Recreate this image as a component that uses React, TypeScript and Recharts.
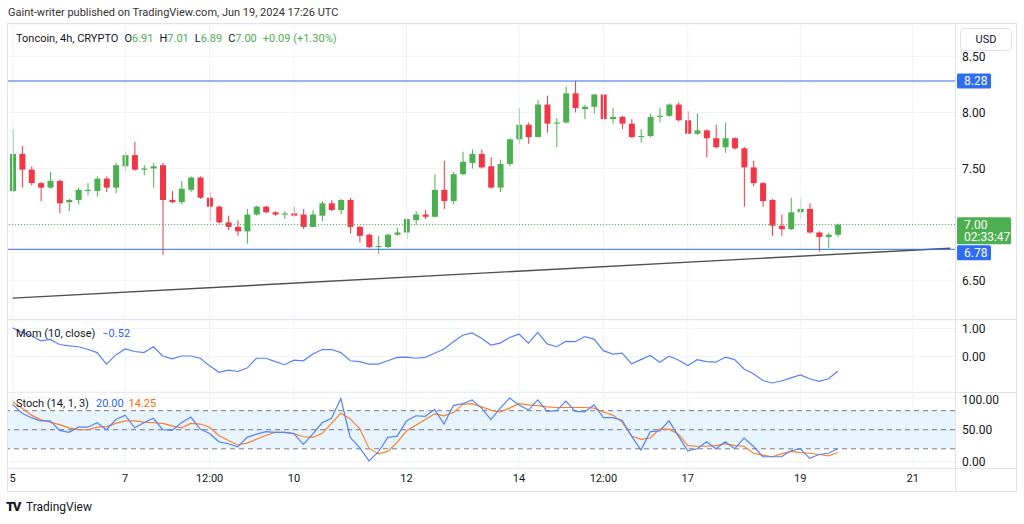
import React from "react";
import {
  ComposedChart,
  Bar,
  Line,
  XAxis,
  YAxis,
  CartesianGrid,
  ReferenceLine,
  ReferenceArea,
} from "recharts";

// 4h candles, June 5 00:00 -> June 19 16:00
const opens = [
  7.3, 7.63, 7.49, 7.37, 7.33, 7.39, 7.2, 7.22, 7.3, 7.3,
  7.41, 7.33, 7.52, 7.62, 7.49, 7.5, 7.53, 7.22, 7.2, 7.31,
  7.42, 7.24, 7.16, 7.02, 6.98, 6.94, 7.09, 7.16, 7.11, 7.09,
  7.1, 7.09, 6.98, 7.08, 7.19, 7.13, 7.22, 6.98, 6.91, 6.8,
  6.8, 6.91, 6.93, 7.04, 7.09, 7.07, 7.31, 7.21, 7.45, 7.55,
  7.63, 7.52, 7.33, 7.54, 7.76, 7.89, 7.78, 8.07, 7.9, 7.91,
  8.17, 8.03, 8.05, 8.16, 7.94, 7.96, 7.9, 7.78, 7.79, 7.96,
  7.97, 8.07, 7.93, 7.81, 7.84, 7.77, 7.69, 7.77, 7.68, 7.51,
  7.37, 7.22, 6.99, 6.96, 7.11, 7.14, 6.93, 6.89, 6.91,
];
const highs = [
  7.85, 7.7, 7.52, 7.38, 7.47, 7.4, 7.23, 7.33, 7.37, 7.43,
  7.43, 7.55, 7.65, 7.74, 7.53, 7.55, 7.55, 7.3, 7.39, 7.43,
  7.43, 7.29, 7.17, 7.08, 7.04, 7.14, 7.17, 7.17, 7.12, 7.12,
  7.16, 7.14, 7.13, 7.21, 7.22, 7.23, 7.24, 6.99, 6.92, 6.9,
  6.92, 6.97, 7.06, 7.12, 7.13, 7.45, 7.57, 7.47, 7.65, 7.67,
  7.67, 7.6, 7.58, 7.77, 8.04, 7.91, 8.11, 8.15, 7.95, 8.23,
  8.28, 8.07, 8.16, 8.16, 8.04, 7.97, 7.94, 7.85, 7.99, 8.04,
  8.08, 8.09, 8.01, 7.99, 7.85, 7.89, 7.91, 7.78, 7.69, 7.57,
  7.38, 7.23, 7.09, 7.24, 7.24, 7.19, 6.94, 6.93, 7.01,
];
const lows = [
  7.29, 7.33, 7.35, 7.21, 7.32, 7.1, 7.12, 7.18, 7.26, 7.25,
  7.29, 7.28, 7.47, 7.48, 7.44, 7.33, 6.73, 7.19, 7.18, 7.29,
  7.23, 7.03, 7.01, 6.95, 6.9, 6.83, 7.08, 7.1, 7.08, 7.05,
  7.07, 6.96, 6.98, 7.03, 7.12, 7.09, 6.92, 6.84, 6.79, 6.74,
  6.79, 6.9, 6.87, 7.0, 7.05, 7.07, 7.14, 7.18, 7.44, 7.5,
  7.5, 7.32, 7.29, 7.52, 7.72, 7.72, 7.78, 7.82, 7.69, 7.9,
  8.0, 7.94, 7.99, 7.94, 7.9, 7.85, 7.77, 7.73, 7.78, 7.91,
  7.96, 7.92, 7.81, 7.8, 7.6, 7.68, 7.64, 7.67, 7.16, 7.34,
  7.16, 6.9, 6.9, 6.95, 7.05, 6.92, 6.76, 6.79, 6.89,
];
const closes = [
  7.63, 7.49, 7.37, 7.33, 7.39, 7.19, 7.22, 7.31, 7.31, 7.41,
  7.33, 7.53, 7.62, 7.49, 7.5, 7.52, 7.22, 7.2, 7.32, 7.42,
  7.24, 7.16, 7.02, 6.98, 6.94, 7.09, 7.16, 7.11, 7.09, 7.1,
  7.08, 6.98, 7.09, 7.19, 7.13, 7.22, 6.98, 6.9, 6.8, 6.81,
  6.91, 6.93, 7.05, 7.09, 7.07, 7.31, 7.21, 7.45, 7.56, 7.63,
  7.51, 7.33, 7.54, 7.76, 7.89, 7.78, 8.07, 7.9, 7.91, 8.17,
  8.04, 8.05, 8.16, 7.94, 7.96, 7.9, 7.78, 7.79, 7.96, 7.97,
  8.07, 7.93, 7.81, 7.84, 7.77, 7.69, 7.77, 7.68, 7.51, 7.37,
  7.21, 6.99, 6.96, 7.11, 7.14, 6.93, 6.89, 6.91, 7.0,
];

// Mom (10, close)
const momentum = [
  1.02, 0.86, 0.74, 0.56, 0.61, 0.43, 0.38, 0.35, 0.26, 0.14,
  -0.27, 0.06, 0.27, 0.18, 0.14, 0.35, 0.02, -0.08, 0.02, 0.02,
  -0.06, -0.33, -0.56, -0.48, -0.53, -0.41, -0.06, -0.06, -0.18, -0.29,
  -0.13, -0.15, 0.09, 0.25, 0.25, 0.14, -0.15, -0.18, -0.27, -0.27,
  -0.15, -0.03, -0.02, -0.06, -0.03, 0.12, 0.27, 0.53, 0.76, 0.84,
  0.65, 0.41, 0.48, 0.68, 0.8, 0.48, 0.86, 0.45, 0.35, 0.54,
  0.53, 0.71, 0.62, 0.21, 0.09, 0.12, -0.26, -0.11, 0.04, -0.2,
  0.01, -0.12, -0.32, -0.11, -0.18, -0.2, -0.02, -0.11, -0.44, -0.61,
  -0.85, -0.94, -0.87, -0.76, -0.65, -0.79, -0.88, -0.79, -0.52,
];

// Stoch (14, 1, 3)
const stochK = [
  90, 76, 69, 64, 64, 49, 46, 54, 54, 61,
  50, 66, 73, 53, 61, 68, 50, 49, 61, 70,
  51, 44, 31, 28, 23, 38, 43, 47, 46, 46,
  44, 27, 43, 61, 68, 99, 38, 22, 1, 15,
  38, 40, 64, 72, 71, 82, 59, 88, 91, 97,
  84, 66, 84, 100, 89, 81, 97, 79, 80, 95,
  79, 78, 89, 69, 69, 65, 40, 18, 47, 48,
  64, 40, 17, 20, 31, 20, 31, 20, 37, 24,
  7.5, 7.5, 7.5, 17, 20, 5, 11, 13, 20,
];
const stochD = [
  94, 84, 73, 66, 62, 58, 53, 50, 50, 54,
  55, 60, 64, 64, 62, 61, 60, 56, 53, 60,
  59, 54, 41, 33, 26, 29, 35, 41, 46, 46,
  44, 39, 38, 44, 60, 76, 67, 52, 21, 12,
  16, 30, 48, 57, 66, 75, 72, 77, 90, 91,
  86, 81, 78, 84, 91, 89, 88, 86, 85, 85,
  85, 85, 84, 78, 73, 62, 40, 35, 37, 51,
  51, 43, 25, 24, 24, 25, 28, 25, 24, 13,
  10, 7.5, 12, 16, 14, 13, 11, 9, 14.25,
];

const timeTicks = [0, 12, 21, 30, 42, 54, 63, 72, 84, 96];
const timeLabels = ["5", "7", "12:00", "10", "12", "14", "12:00", "17", "19", "21"];
const priceTicks = [6.5, 7, 7.5, 8, 8.5];
const momTicks = [-1, 0, 1];
const stochTicks = [0, 50, 100];
const stochLevels = [80, 50, 20];
const levels = [8.28, 6.78];
const trendLine = [
  { idx: 0, price: 6.345 },
  { idx: 100, price: 6.79 },
];
const lastPrice = 7.0;
const SLOTS = 101;

const UP = "#4caf50";
const DOWN = "#f23645";
const BLUE = "#2f6cf6";
const GRID = "#f0f3fa";
const BORDER = "#e0e3eb";
const TEXT = "#131722";

const rows = Array.from({ length: SLOTS }, (_, i) =>
  i < opens.length
    ? {
        idx: i,
        open: opens[i],
        high: highs[i],
        low: lows[i],
        close: closes[i],
        range: [lows[i], highs[i]],
        mom: momentum[i],
        k: stochK[i],
        d: stochD[i],
      }
    : { idx: i }
);

const Candle = (props: any) => {
  const { x, y, width, height, payload } = props;
  if (!payload || payload.open == null) return null;
  const { open, close, high, low } = payload;
  const color = close >= open ? UP : DOWN;
  const top = Math.min(y, y + height);
  const h = Math.abs(height);
  const ratio = high > low ? h / (high - low) : 0;
  const cx = x + width / 2;
  const bodyTop = top + (high - Math.max(open, close)) * ratio;
  const bodyH = Math.max(1, Math.abs(open - close) * ratio);
  return (
    <g>
      <line x1={cx} x2={cx} y1={top} y2={top + h} stroke={color} strokeWidth={1} />
      <rect x={x} y={bodyTop} width={width} height={bodyH} fill={color} />
    </g>
  );
};

// label box on the price scale; shift moves it off a neighbouring label
const PriceTag = (props: any) => {
  const { viewBox, text, sub, color, w, shift = 0 } = props;
  if (!viewBox) return null;
  const x = viewBox.x + viewBox.width + 2;
  const y = viewBox.y + shift;
  const top = y - 7.5;
  const h = sub ? 27 : 15;
  return (
    <g>
      <rect x={x} y={top} width={w} height={h} fill={color} rx={1.5} />
      <text x={x + 7} y={top + 11.5} fill="#fff" fontSize={12}>
        {text}
      </text>
      {sub && (
        <text x={x + 7} y={top + 24} fill="#fff" fontSize={12}>
          {sub}
        </text>
      )}
    </g>
  );
};

const yTick = { fontSize: 12, fill: TEXT };
const PANE_W = 1008;
const AXIS_W = 61;

const vLines = timeTicks.map((t) => (
  <ReferenceLine key={"v" + t} x={t} stroke={GRID} strokeWidth={1} />
));

function abs(left: number, top: number, extra: any = {}) {
  return { position: "absolute" as const, left, top, ...extra };
}

export default function App() {
  return (
    <div
      style={{
        position: "absolute",
        left: 0,
        top: 0,
        width: 1024,
        height: 524,
        background: "#fff",
        fontFamily: "Roboto, 'Noto Sans', sans-serif",
        color: TEXT,
        overflow: "hidden",
      }}
    >
      <div style={abs(8, 6, { fontSize: 11, color: "#333", whiteSpace: "nowrap" })}>
        Gaint-writer published on TradingView.com, Jun 19, 2024 17:26 UTC
      </div>

      {/* frame */}
      <div style={abs(7, 23, { width: 1008, height: 467, border: `1px solid ${BORDER}` })} />
      <div style={abs(955, 23, { width: 1, height: 468, background: BORDER })} />
      <div style={abs(8, 319, { width: 1008, height: 1, background: BORDER })} />
      <div style={abs(8, 392, { width: 1008, height: 1, background: BORDER })} />
      <div style={abs(8, 468, { width: 1008, height: 1, background: BORDER })} />

      {/* price pane */}
      <div style={abs(8, 24)}>
        <ComposedChart width={PANE_W} height={294} data={rows} margin={{ top: 0, right: 0, bottom: 0, left: 0 }}>
          <CartesianGrid vertical={false} stroke={GRID} />
          {vLines}
          <XAxis dataKey="idx" scale="band" hide />
          <YAxis
            orientation="right"
            width={AXIS_W}
            domain={[6.168, 8.788]}
            allowDataOverflow
            ticks={priceTicks}
            tickFormatter={(v: number) => (v === 7 ? "" : v.toFixed(2))}
            axisLine={false}
            tickLine={false}
            tickSize={0}
            tickMargin={7}
            tick={yTick}
          />
          <ReferenceLine
            segment={trendLine.map((p) => ({ x: p.idx, y: p.price }))}
            stroke="#505050"
            strokeWidth={1.4}
          />
          <ReferenceLine
            y={lastPrice}
            stroke={UP}
            strokeDasharray="1 2"
            label={<PriceTag text="7.00" sub="02:33:47" color={UP} w={54} />}
          />
          {levels.map((lv) => (
            <ReferenceLine
              key={lv}
              y={lv}
              stroke={BLUE}
              strokeWidth={1}
              label={<PriceTag text={lv.toFixed(2)} color={BLUE} w={34} shift={lv === 6.78 ? 3.5 : 0} />}
            />
          ))}
          <Bar dataKey="range" barSize={6} shape={<Candle />} isAnimationActive={false} />
        </ComposedChart>
      </div>

      {/* momentum pane */}
      <div style={abs(8, 320)}>
        <ComposedChart width={PANE_W} height={72} data={rows} margin={{ top: 0, right: 0, bottom: 0, left: 0 }}>
          <CartesianGrid vertical={false} stroke={GRID} />
          {vLines}
          <XAxis dataKey="idx" scale="band" hide />
          <YAxis
            orientation="right"
            width={AXIS_W}
            domain={[-1.26, 1.3]}
            allowDataOverflow
            ticks={momTicks}
            tickFormatter={(v: number) => (v < 0 ? "\u2212" : "") + Math.abs(v).toFixed(2)}
            axisLine={false}
            tickLine={false}
            tickSize={0}
            tickMargin={7}
            tick={yTick}
          />
          <Line dataKey="mom" stroke="#5583f7" strokeWidth={1.2} dot={false} isAnimationActive={false} />
        </ComposedChart>
      </div>

      {/* stoch pane */}
      <div style={abs(8, 392)}>
        <ComposedChart width={PANE_W} height={98} data={rows} margin={{ top: 0, right: 0, bottom: 0, left: 0 }}>
          <CartesianGrid vertical={false} stroke={GRID} />
          {vLines}
          <ReferenceArea y1={20} y2={80} fill="#2196f3" fillOpacity={0.1} stroke="none" />
          {stochLevels.map((lv) => (
            <ReferenceLine key={lv} y={lv} stroke="#787b86" strokeDasharray="5 4" />
          ))}
          <XAxis
            dataKey="idx"
            scale="band"
            height={22}
            ticks={timeTicks}
            interval={0}
            tickFormatter={(v: number) => timeLabels[timeTicks.indexOf(v)]}
            axisLine={false}
            tickLine={false}
            tickSize={0}
            tickMargin={6}
            tick={{ fontSize: 11, fill: TEXT }}
          />
          <YAxis
            orientation="right"
            width={AXIS_W}
            domain={[-10.2, 109.4]}
            allowDataOverflow
            ticks={stochTicks}
            tickFormatter={(v: number) => v.toFixed(2)}
            axisLine={false}
            tickLine={false}
            tickSize={0}
            tickMargin={7}
            tick={yTick}
          />
          <Line dataKey="d" stroke="#ff7f27" strokeWidth={1.2} dot={false} isAnimationActive={false} />
          <Line dataKey="k" stroke="#5583f7" strokeWidth={1.2} dot={false} isAnimationActive={false} />
        </ComposedChart>
      </div>

      {/* legends */}
      <div style={abs(16, 32, { fontSize: 11, whiteSpace: "nowrap" })}>
        <span>Toncoin, 4h, CRYPTO</span>
        <span style={{ marginLeft: 6 }}>O</span>
        <span style={{ color: UP }}>6.91</span>
        <span style={{ marginLeft: 6 }}>H</span>
        <span style={{ color: UP }}>7.01</span>
        <span style={{ marginLeft: 6 }}>L</span>
        <span style={{ color: UP }}>6.89</span>
        <span style={{ marginLeft: 6 }}>C</span>
        <span style={{ color: UP }}>7.00</span>
        <span style={{ color: UP, marginLeft: 6 }}>+0.09 (+1.30%)</span>
      </div>
      <div style={abs(16, 327, { fontSize: 11, whiteSpace: "nowrap" })}>
        <span>Mom (10, close)</span>
        <span style={{ color: "#2962ff", marginLeft: 7 }}>{"\u22120.52"}</span>
      </div>
      <div style={abs(16, 397, { fontSize: 11, whiteSpace: "nowrap" })}>
        <span>Stoch (14, 1, 3)</span>
        <span style={{ color: "#2962ff", marginLeft: 7 }}>20.00</span>
        <span style={{ color: "#ff6d00", marginLeft: 5 }}>14.25</span>
      </div>

      <div
        style={abs(960, 28, {
          width: 50,
          height: 21,
          border: `1px solid ${BORDER}`,
          borderRadius: 4,
          fontSize: 11,
          lineHeight: "21px",
          textAlign: "center",
          background: "#fff",
        })}
      >
        USD
      </div>

      <div style={abs(6, 499, { fontSize: 12, whiteSpace: "nowrap", display: "flex", alignItems: "center" })}>
        <span style={{ fontWeight: 900, fontSize: 13, letterSpacing: -1.5, marginRight: 6 }}>TV</span>
        <span>TradingView</span>
      </div>
    </div>
  );
}
